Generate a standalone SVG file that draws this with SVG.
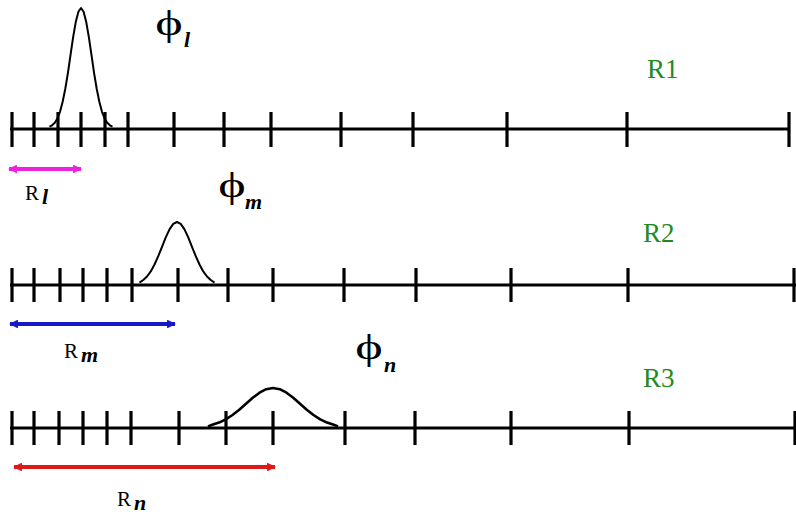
<svg xmlns="http://www.w3.org/2000/svg" width="796" height="517" viewBox="0 0 796 517">
  <style>
    .axis { stroke: #000; stroke-width: 3; fill: none; }
    .tick { stroke: #000; stroke-width: 3.2; }
    .wave { stroke: #000; stroke-width: 2; fill: none; stroke-linejoin: round; }
    text { font-family: "Liberation Serif", "Times New Roman", "DejaVu Serif", serif; fill: #000; }
    .phi { font-size: 36px; text-anchor: middle; }
    .sub { font-style: italic; font-weight: bold; font-size: 22px; }
    .rlab { font-size: 21px; }
    .level { font-size: 27px; fill: #1f8a1f; }
  </style>
  <defs>
    <marker id="headM" viewBox="0 0 10 10" refX="9" refY="5" markerWidth="2.6" markerHeight="2.2" orient="auto-start-reverse" markerUnits="strokeWidth">
      <path d="M0,0 L10,5 L0,10 z" fill="#ee22dd"/>
    </marker>
    <marker id="headB" viewBox="0 0 10 10" refX="9" refY="5" markerWidth="2.6" markerHeight="2.2" orient="auto-start-reverse" markerUnits="strokeWidth">
      <path d="M0,0 L10,5 L0,10 z" fill="#1818c8"/>
    </marker>
    <marker id="headR" viewBox="0 0 10 10" refX="9" refY="5" markerWidth="2.6" markerHeight="2.2" orient="auto-start-reverse" markerUnits="strokeWidth">
      <path d="M0,0 L10,5 L0,10 z" fill="#e01818"/>
    </marker>
  </defs>

  <!-- Row 1: fine grid -->
  <g id="row1">
    <line class="axis" x1="10" y1="129" x2="790" y2="129"/>
    <path class="tick" d="M12,112V147 M34,112V147 M58,112V147 M81,112V147 M105,112V147 M128,112V147 M174,112V147 M224,112V147 M271,112V147 M341,112V147 M413,112V147 M507,112V147 M627,112V147 M789,112V147"/>
    <path class="wave" d="M49.5,126.7 L52.1,125.3 54.75,122.7 57.4,118.4 60,111.8 62.6,102 65.25,89 67.9,73.1 70.5,55.2 73.1,37.4 75.75,22.1 78.4,11.7 81,8 83.6,11.7 86.25,22.1 88.9,37.4 91.5,55.2 94.1,73.1 96.75,89 99.4,102 102,111.8 104.6,118.4 107.25,122.7 109.9,125.3 112.5,126.7"/>
    <text class="phi" transform="translate(169,35) scale(1.45,1)">ϕ</text>
    <text class="sub" x="184" y="47">l</text>
    <text class="level" x="647" y="78">R1</text>
  </g>

  <!-- Row 2 -->
  <g id="row2">
    <line class="axis" x1="10" y1="285" x2="796" y2="285"/>
    <path class="tick" d="M12,268V302 M34,268V302 M60,268V302 M83,268V302 M107,268V302 M132,268V302 M178,268V302 M228,268V302 M273,268V302 M344,268V302 M416,268V302 M511,268V302 M628,268V302 M794,268V302"/>
    <path class="wave" d="M139.5,282.6 L143.25,280 147,276.5 150.75,271.4 154.5,264.5 158.25,256.2 162,246.8 165.75,237.4 169.5,229.4 173.25,223.9 177,222 180.75,223.9 184.5,229.4 188.25,237.4 192,246.8 195.75,256.2 199.5,264.5 203.25,271.4 207,276.5 210.75,280 214.5,282.6"/>
    <text class="phi" transform="translate(232,197) scale(1.45,1)">ϕ</text>
    <text class="sub" x="245" y="209">m</text>
    <text class="level" x="643" y="242">R2</text>
  </g>

  <!-- Row 3: coarse grid -->
  <g id="row3">
    <line class="axis" x1="10" y1="428" x2="796" y2="428"/>
    <path class="tick" d="M12,411V445 M34,411V445 M59,411V445 M83,411V445 M107,411V445 M131,411V445 M179,411V445 M226,411V445 M273,411V445 M345,411V445 M415,411V445 M511,411V445 M629,411V445 M795,411V445"/>
    <path class="wave" style="stroke-width:2.6" d="M208,426.4 L212.25,424.8 219,422.6 225.75,419.3 232.5,415 239.25,409.7 246,403.7 252.75,397.8 259.5,392.7 266.25,389.2 273,388 279.75,389.2 286.5,392.7 293.25,397.8 300,403.7 306.75,409.7 313.5,415 320.25,419.3 327,422.6 333.75,424.8 338,426.4"/>
    <text class="phi" transform="translate(369,359) scale(1.45,1)">ϕ</text>
    <text class="sub" x="384" y="372">n</text>
    <text class="level" x="643" y="387">R3</text>
  </g>

  <!-- Cut-off radii -->
  <g id="radii">
    <line x1="9" y1="169" x2="81" y2="169" stroke="#ee22dd" stroke-width="4" marker-start="url(#headM)" marker-end="url(#headM)"/>
    <text class="rlab" x="25" y="200">R<tspan class="sub" dx="3" dy="4">l</tspan></text>
    <line x1="10" y1="324" x2="175" y2="324" stroke="#1818c8" stroke-width="4" marker-start="url(#headB)" marker-end="url(#headB)"/>
    <text class="rlab" x="64" y="358">R<tspan class="sub" dx="3" dy="4">m</tspan></text>
    <line x1="14" y1="467" x2="275" y2="467" stroke="#e01818" stroke-width="4" marker-start="url(#headR)" marker-end="url(#headR)"/>
    <text class="rlab" x="117" y="506">R<tspan class="sub" dx="3" dy="4">n</tspan></text>
  </g>
</svg>
